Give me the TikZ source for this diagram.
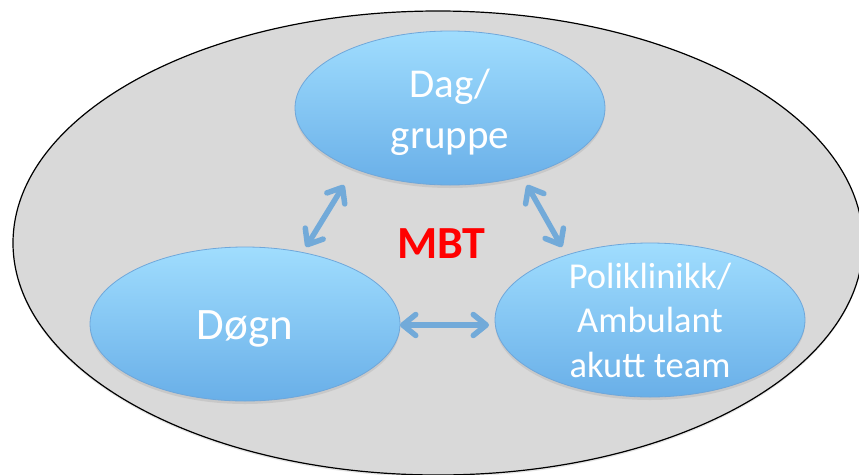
\documentclass[tikz,border=0pt]{standalone}
\usepackage{fontspec}
\setmainfont{Carlito}
\usetikzlibrary{arrows.meta,shapes.geometric,shadows}
\definecolor{bgGray}{HTML}{D9D9D9}
\definecolor{blobTop}{HTML}{A0DDFE}
\definecolor{blobBot}{HTML}{69AFE8}
\definecolor{blobEdge}{HTML}{6FA7DA}
\definecolor{arrowBlue}{HTML}{72AAD9}
\begin{document}
\begin{tikzpicture}[x=1pt,y=-1pt,
  outer/.style={ellipse, draw=black, line width=1.2pt, fill=bgGray,
    minimum width=850pt, minimum height=464pt, inner sep=0pt,
    drop shadow={shadow xshift=0pt, shadow yshift=-2pt, opacity=0.2}},
  blob/.style={ellipse, draw=blobEdge, line width=0.8pt,
    top color=blobTop, bottom color=blobBot,
    minimum width=310pt, minimum height=154pt, inner sep=0pt,
    drop shadow={shadow xshift=0pt, shadow yshift=-3pt, opacity=0.18}},
  lbl/.style={text=white, anchor=base, inner sep=0pt},
  link/.style={draw=arrowBlue, line width=5.5pt,
    {Straight Barb[length=13pt,width=21pt,round]}-{Straight Barb[length=13pt,width=21pt,round]}}
]
\useasboundingbox (0,0) rectangle (859,474);
\clip (0,0) rectangle (859,474);

\node[outer] (frame) at (438,243) {};

\node[blob] (dag) at (450,108) {};
\node[blob] (dogn) at (245,324) {};
\node[blob] (poli) at (650,320) {};

\node[lbl, font=\fontsize{41}{49}\selectfont] (dagA) at (450,97) {Dag/};
\node[lbl, font=\fontsize{41}{49}\selectfont] (dagB) at (450,148) {gruppe};
\node[lbl, font=\fontsize{45}{54}\selectfont] (dognT) at (245,339) {Døgn};
\node[lbl, font=\fontsize{36.5}{44}\selectfont] (poliA) at (650,288) {Poliklinikk/};
\node[lbl, font=\fontsize{36.5}{44}\selectfont] (poliB) at (650,332) {Ambulant};
\node[lbl, font=\fontsize{36.5}{44}\selectfont] (poliC) at (650,377) {akutt team};

\node[anchor=base, inner sep=0pt, text=red, font=\bfseries\fontsize{46}{55}\selectfont] (mbt) at (441,258) {MBT};

\coordinate (l1) at (306,247);
\coordinate (l2) at (344,185);
\coordinate (r1) at (527,185);
\coordinate (r2) at (562,247);
\coordinate (h1) at (400,325);
\coordinate (h2) at (489,325);

\draw[link] (l1) -- (l2);
\draw[link] (r1) -- (r2);
\draw[link] (h1) -- (h2);
\end{tikzpicture}
\end{document}
